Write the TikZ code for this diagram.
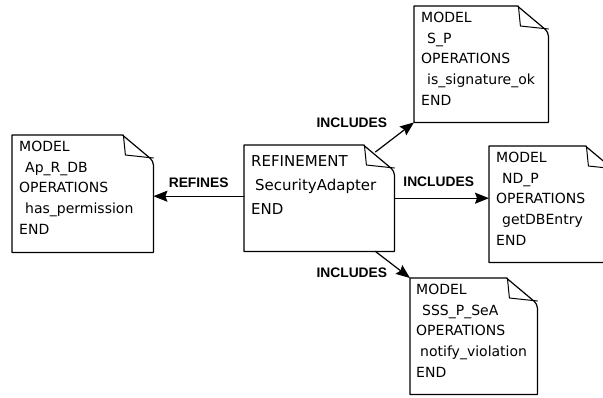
\documentclass[tikz,border=0pt]{standalone}
\usepackage{fontspec}
\setmainfont{DejaVu Sans}
\newfontfamily\relfont{Liberation Sans}
\usetikzlibrary{positioning,arrows.meta}
\tikzset{
	docbox/.style={anchor=north west, inner sep=0pt, draw=none},
	doctext/.style={anchor=north west, inner sep=0pt, align=left, font=\fontsize{14}{20.7}\selectfont},
	reltext/.style={inner sep=0pt, font=\relfont\bfseries\fontsize{13.8}{16}\selectfont},
	rel/.style={line width=1.2pt, -{Stealth[length=14pt,width=11pt,inset=2pt]}},
}
\begin{document}
\begin{tikzpicture}[x=1pt, y=-1pt, line join=round, line cap=round]
			\def \fw{31pt};
			\def \fh{26pt};
			\useasboundingbox (0,0) rectangle (603,397);
			\clip (0,0) rectangle (603,397);
			% boxes
			\node[docbox, minimum width=150pt, minimum height=106pt] (ref) at (244,145) {};
			\node[docbox, minimum width=141pt, minimum height=117pt] (ap) at (12,135) {};
			\node[docbox, minimum width=134pt, minimum height=116pt] (sp) at (414,6) {};
			\node[docbox, minimum width=127pt, minimum height=116pt] (nd) at (489,146) {};
			\node[docbox, minimum width=127pt, minimum height=116pt] (sss) at (410,278) {};
			\foreach \n in {ref,ap,sp,nd,sss}{
				\draw[line width=1.2pt] (\n.south west) -- (\n.north west) -- ([xshift=-\fw]\n.north east) [rounded corners=4pt] -- ([yshift=-\fh]\n.north east) [sharp corners] -- (\n.south east) -- cycle;
				\draw[line width=1pt] ([xshift=-\fw+1pt]\n.north east) -- ([xshift=-\fw+3pt,yshift=-\fh+6pt]\n.north east) -- ([yshift=-\fh+3pt]\n.north east);
			}
			% texts
			\node[doctext, font=\fontsize{15}{24}\selectfont] (reftext) at ([xshift=7pt,yshift=-10pt]ref.north west) {REFINEMENT\\\hspace*{4pt}SecurityAdapter\\END};
			\node[doctext] (aptext) at ([xshift=7pt,yshift=-6pt]ap.north west) {MODEL\\\hspace*{6pt}Ap\_R\_DB\\OPERATIONS\\\hspace*{6pt}has\_permission\\END};
			\node[doctext] (sptext) at ([xshift=7pt,yshift=-6pt]sp.north west) {MODEL\\\hspace*{6pt}S\_P\\OPERATIONS\\\hspace*{6pt}is\_signature\_ok\\END};
			\node[doctext] (ndtext) at ([xshift=7pt,yshift=-6pt]nd.north west) {MODEL\\\hspace*{6pt}ND\_P\\OPERATIONS\\\hspace*{6pt}getDBEntry\\END};
			\node[doctext] (ssstext) at ([xshift=6pt,yshift=-6pt]sss.north west) {MODEL\\\hspace*{6pt}SSS\_P\_SeA\\OPERATIONS\\\hspace*{4pt}notify\_violation\\END};
			% relations
			\draw[rel] ([yshift=2pt]ref.west) -- ([yshift=2pt]ref.west -| ap.east) node[midway, above=8pt, reltext] {REFINES};
			\draw[rel] (ref.east) -- (ref.east -| nd.west) node[midway, above=11pt, xshift=-3pt, reltext] {INCLUDES};
			\draw[rel] ([xshift=-19pt,yshift=-7pt]ref.north east) -- (sp.south west) node[midway, above left=9pt and 7pt, reltext] {INCLUDES};
			\draw[rel] ([xshift=-19pt]ref.south east) -- (sss.north west) node[midway, below left=3pt and 5pt, reltext] {INCLUDES};
	\end{tikzpicture}
\end{document}
